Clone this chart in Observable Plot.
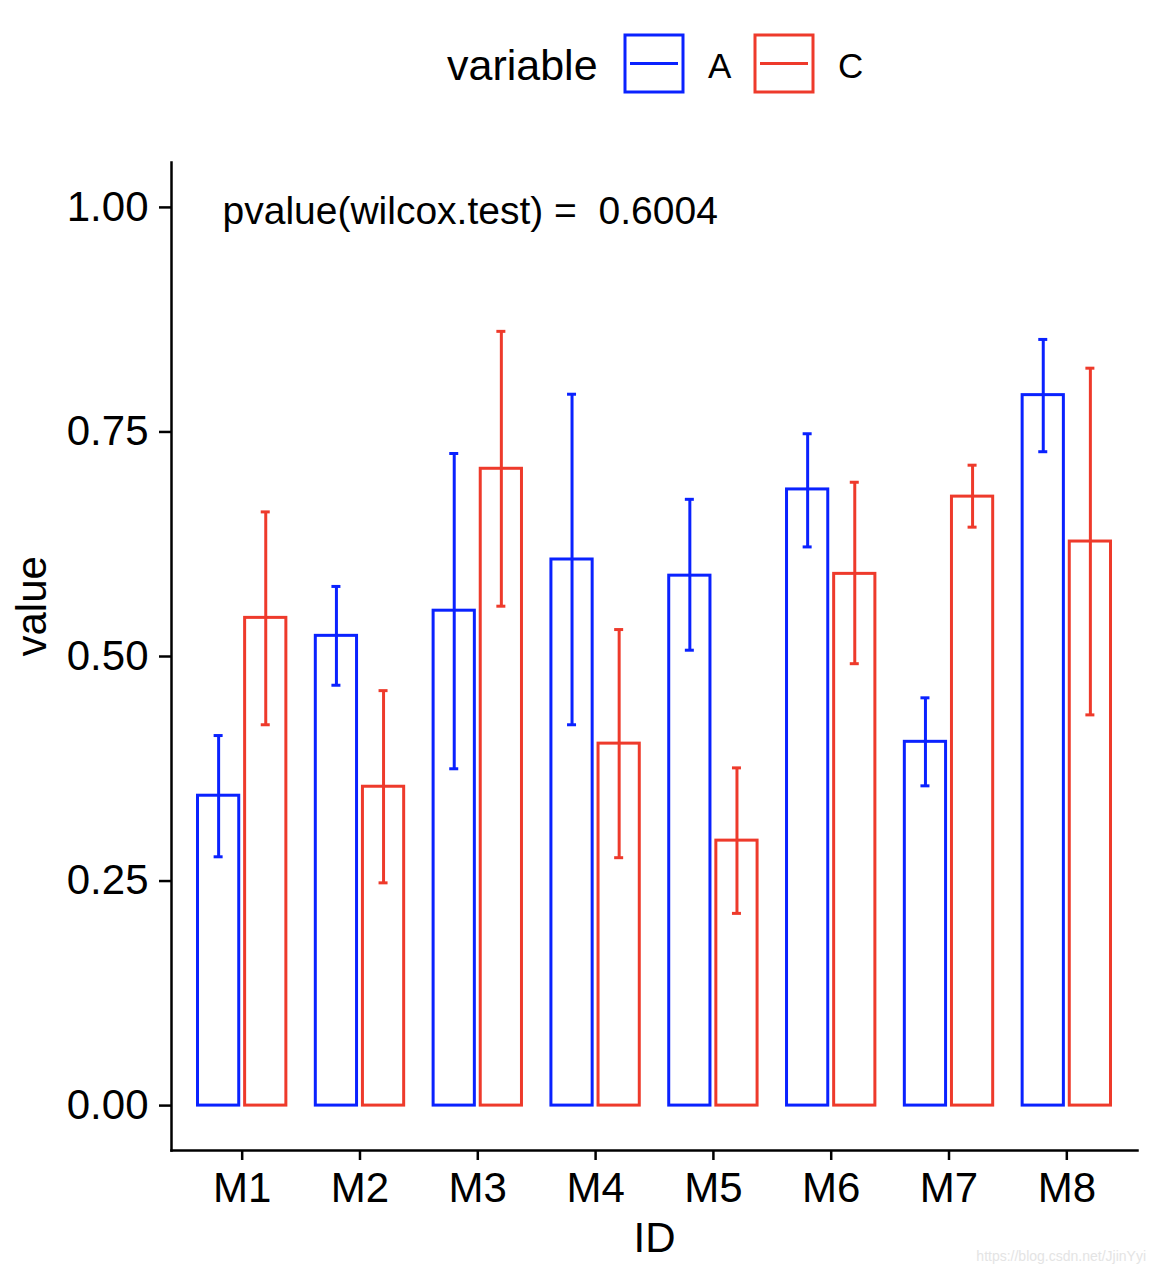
<!DOCTYPE html>
<html>
<head>
<meta charset="utf-8">
<script src="https://cdn.jsdelivr.net/npm/d3@7"></script>
<script src="https://cdn.jsdelivr.net/npm/@observablehq/plot@0.6"></script>
<style>
  html, body { margin: 0; padding: 0; background: #fff; }
  body { width: 1156px; height: 1272px; position: relative; overflow: hidden;
         font-family: "Liberation Sans", Arial, Helvetica, sans-serif; }
  #legend { position: absolute; left: 0; top: 0; width: 1156px; height: 120px; }
  #chart { position: absolute; left: 0; top: 120px; }
  #credit { position: absolute; right: 10px; bottom: 8px; font-size: 14px; color: #e4e4e4; }
</style>
</head>
<body>
<div id="legend"></div>
<div id="chart"></div>
<div id="credit">https://blog.csdn.net/JjinYyi</div>
<script>
// ---- data ----
const ids = ["M1", "M2", "M3", "M4", "M5", "M6", "M7", "M8"];
const variables = ["A", "C"];
const meanA = [0.345, 0.523, 0.551, 0.608, 0.590, 0.686, 0.405, 0.791];
const loA   = [0.277, 0.468, 0.375, 0.424, 0.507, 0.622, 0.356, 0.728];
const hiA   = [0.412, 0.578, 0.726, 0.792, 0.675, 0.748, 0.454, 0.853];
const meanC = [0.543, 0.355, 0.709, 0.403, 0.295, 0.592, 0.678, 0.628];
const loC   = [0.424, 0.248, 0.556, 0.276, 0.214, 0.492, 0.644, 0.435];
const hiC   = [0.661, 0.462, 0.862, 0.530, 0.376, 0.694, 0.713, 0.821];
const yTicks = [0, 0.25, 0.5, 0.75, 1];
const annotation = "pvalue(wilcox.test) =\u00a0\u00a00.6004";
const colors = {A: "#0A22FF", C: "#EE3A2B"};

const rows = [];
ids.forEach((id, i) => {
  rows.push({ID: id, variable: "A", value: meanA[i], lo: loA[i], hi: hiA[i]});
  rows.push({ID: id, variable: "C", value: meanC[i], lo: loC[i], hi: hiC[i]});
});

// ---- layout ----
const W = 1156, H = 1152;
const mL = 171, mR = 19, mT = 42, mB = 122;
const outer = 0.1;                         // ggplot discrete expansion (0.6 units)
const step = (W - mL - mR) / (ids.length + 2 * outer);
const barW = 0.35 * step;                  // geom_bar width 0.7, dodged
const off = 0.2 * step;                    // dodge offset
const inset = (step - barW) / 2;
const capInset = (step - 9) / 2;
const font = "Liberation Sans, Arial, Helvetica, sans-serif";

const marks = [];
variables.forEach(v => {
  const d = rows.filter(r => r.variable === v);
  const dx = v === "A" ? -off : off;
  marks.push(Plot.barY(d, {x: "ID", y: "value", fill: "white", stroke: colors[v],
    strokeWidth: 3, dx, insetLeft: inset, insetRight: inset}));
});
variables.forEach(v => {
  const d = rows.filter(r => r.variable === v);
  const dx = v === "A" ? -off : off;
  marks.push(Plot.ruleX(d, {x: "ID", y1: "lo", y2: "hi", stroke: colors[v], strokeWidth: 3, dx}));
  marks.push(Plot.tickY(d, {x: "ID", y: "lo", stroke: colors[v], strokeWidth: 3, dx,
    insetLeft: capInset, insetRight: capInset}));
  marks.push(Plot.tickY(d, {x: "ID", y: "hi", stroke: colors[v], strokeWidth: 3, dx,
    insetLeft: capInset, insetRight: capInset}));
});

const chart = Plot.plot({
  width: W, height: H,
  marginLeft: mL, marginRight: mR, marginTop: mT, marginBottom: mB,
  style: {fontFamily: font, fontSize: "42px", color: "#000", background: "white"},
  x: {type: "band", domain: ids, paddingInner: 0, paddingOuter: outer, round: false, label: null},
  y: {domain: [-0.05, 1.05], label: null},
  marks: [
    ...marks,
    Plot.axisY({ticks: yTicks, tickFormat: d3.format(".2f"), tickSize: 12, tickPadding: 11,
      strokeWidth: 2.5, fontSize: 42, label: null}),
    Plot.axisX({tickSize: 10, tickPadding: 12, strokeWidth: 2.5, fontSize: 42, label: null}),
    Plot.frame({anchor: "left", strokeWidth: 2.5}),
    Plot.frame({anchor: "bottom", strokeWidth: 2.5}),
    Plot.text([annotation], {frameAnchor: "top-left", text: d => d, dx: 51, dy: 34,
      fontSize: 39, textAnchor: "start", fill: "#000"}),
    Plot.text(["ID"], {frameAnchor: "bottom", text: d => d, dy: 101, fontSize: 42, fill: "#000"}),
    Plot.text(["value"], {frameAnchor: "left", text: d => d, dx: -139, rotate: -90, fontSize: 42, fill: "#000"})
  ]
});
document.getElementById("chart").appendChild(chart);

// ---- legend ----
const leg = d3.select("#legend").append("svg").attr("width", 1156).attr("height", 120)
  .style("font-family", font);
leg.append("text").attr("x", 447).attr("y", 80).attr("font-size", 43).text("variable");
const keyX = {A: 625, C: 755};
variables.forEach(v => {
  const g = leg.append("g");
  g.append("rect").attr("x", keyX[v]).attr("y", 35).attr("width", 58).attr("height", 57)
    .attr("fill", "white").attr("stroke", colors[v]).attr("stroke-width", 3);
  g.append("line").attr("x1", keyX[v] + 5).attr("x2", keyX[v] + 53).attr("y1", 63.5).attr("y2", 63.5)
    .attr("stroke", colors[v]).attr("stroke-width", 3);
  g.append("text").attr("x", keyX[v] + 83).attr("y", 78).attr("font-size", 35).text(v);
});
</script>
</body>
</html>
